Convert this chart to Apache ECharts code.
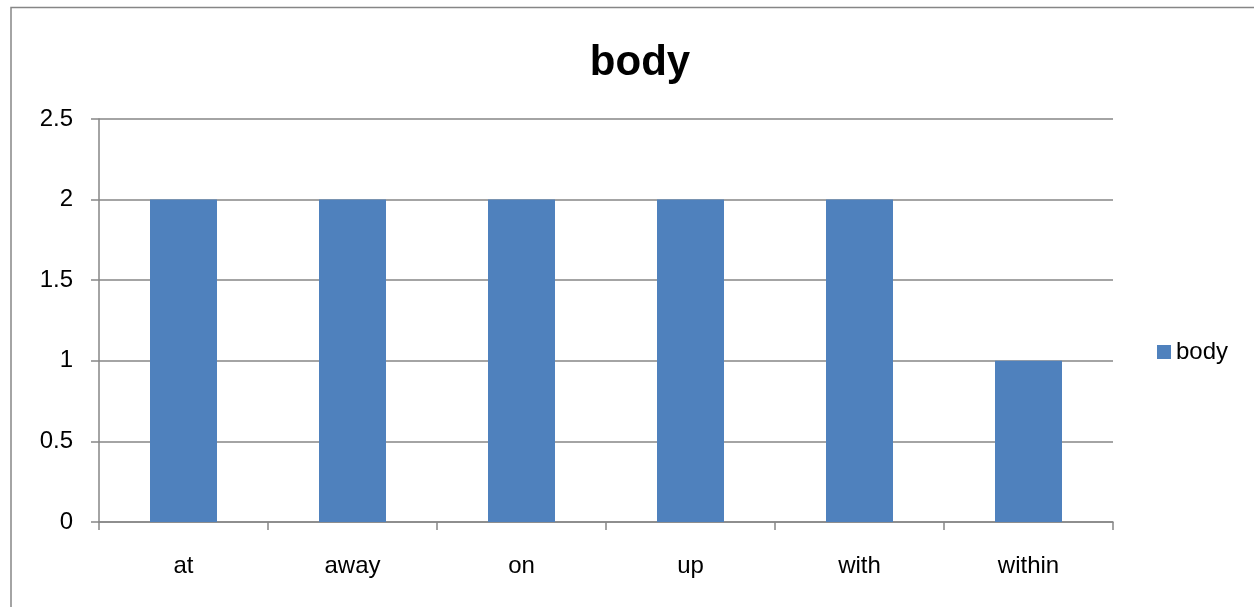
<!DOCTYPE html>
<html>
<head>
<meta charset="utf-8">
<script src="https://cdn.jsdelivr.net/npm/echarts@6/dist/echarts.min.js"></script>
<style>
  html, body { margin: 0; padding: 0; background: #fff; }
  #chart { width: 1254px; height: 607px; }
</style>
</head>
<body>
<div id="chart"></div>
<script>
// Chart data
const title = 'body';
const categories = ['at', 'away', 'on', 'up', 'with', 'within'];
const seriesName = 'body';
const values = [2, 2, 2, 2, 2, 1];
const yTicks = { min: 0, max: 2.5, interval: 0.5 };

const FONT = '"Liberation Sans", Arial, sans-serif';
const GREY = '#868686';

const chart = echarts.init(document.getElementById('chart'), null, { renderer: 'canvas' });
chart.setOption({
  animation: false,
  backgroundColor: '#ffffff',
  graphic: [{
    type: 'rect',
    shape: { x: 11, y: 7.5, width: 1400, height: 800 },
    style: { fill: 'none', stroke: GREY, lineWidth: 1.5 },
    silent: true
  }],
  title: {
    text: title,
    left: 635,
    top: 37,
    textAlign: 'center',
    textStyle: { fontFamily: FONT, fontSize: 42, fontWeight: 'bold', color: '#000' }
  },
  legend: {
    data: [seriesName],
    left: 1157,
    top: 340,
    padding: 0,
    icon: 'rect',
    itemWidth: 14,
    itemHeight: 14,
    itemGap: 6,
    textStyle: { fontFamily: FONT, fontSize: 24, color: '#000', padding: [2, 0, 0, 0] }
  },
  grid: { left: 99, right: 141, top: 119, bottom: 85, containLabel: false },
  xAxis: {
    type: 'category',
    data: categories,
    boundaryGap: true,
    axisLine: { lineStyle: { color: GREY, width: 1.5 } },
    axisTick: { show: true, length: 8, lineStyle: { color: GREY, width: 1.5 } },
    axisLabel: { margin: 32, fontFamily: FONT, fontSize: 24, color: '#000' },
    splitLine: { show: false }
  },
  yAxis: {
    type: 'value',
    min: yTicks.min,
    max: yTicks.max,
    interval: yTicks.interval,
    axisLine: { show: true, lineStyle: { color: GREY, width: 1.5 } },
    axisTick: { show: true, length: 8, lineStyle: { color: GREY, width: 1.5 } },
    axisLabel: { margin: 26, fontFamily: FONT, fontSize: 24, color: '#000', padding: [4, 0, 0, 0] },
    splitLine: { show: true, lineStyle: { color: GREY, width: 1.5 } }
  },
  series: [{
    name: seriesName,
    type: 'bar',
    data: values,
    barWidth: 67,
    itemStyle: { color: '#4F81BD' }
  }]
});
</script>
</body>
</html>
